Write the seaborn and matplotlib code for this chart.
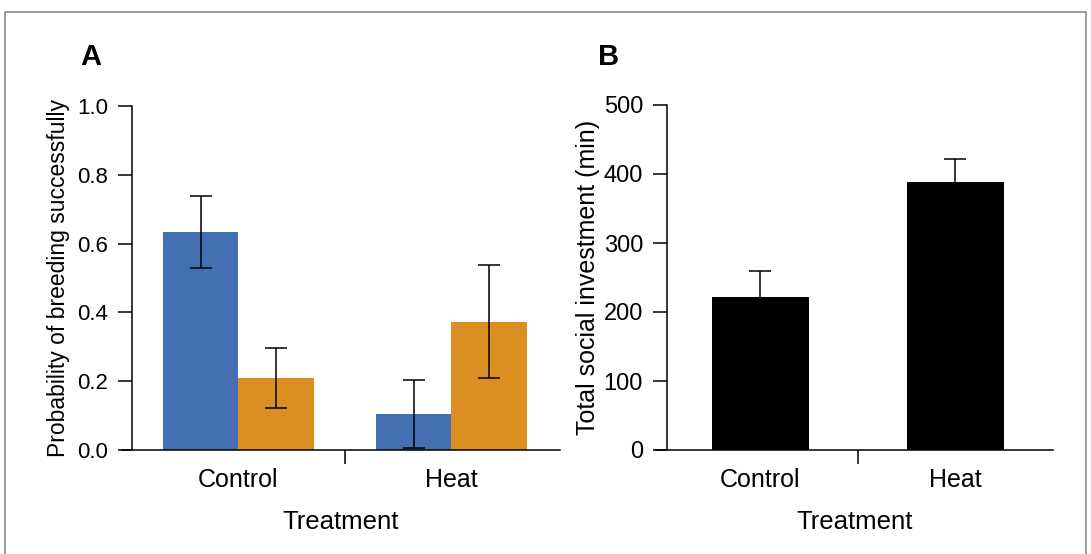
import pandas as pd
import matplotlib
matplotlib.use("Agg")
import matplotlib.pyplot as plt
import seaborn as sns
from matplotlib.patches import Rectangle

sns.set_style("ticks")
plt.rcParams['font.family'] = ['Liberation Sans', 'DejaVu Sans']
plt.rcParams['text.color'] = 'black'
plt.rcParams['axes.labelcolor'] = 'black'
plt.rcParams['xtick.color'] = 'black'
plt.rcParams['ytick.color'] = 'black'

# Panel A data
treatments = ["Control", "Heat"]
series = ["Series 1", "Series 2"]
prob_s1 = [0.634, 0.105]
prob_s2 = [0.209, 0.372]
err_lo_s1 = [0.529, 0.006]
err_hi_s1 = [0.739, 0.203]
err_lo_s2 = [0.123, 0.209]
err_hi_s2 = [0.297, 0.538]

# Panel B data
investment = [222, 389]
invest_hi = [259, 422]

colors_a = ["#4470B3", "#DB8E21"]

df_a = pd.DataFrame({
    "Treatment": treatments * 2,
    "series": [series[0]] * 2 + [series[1]] * 2,
    "prob": prob_s1 + prob_s2,
})
df_b = pd.DataFrame({"Treatment": treatments, "invest": investment})

fig = plt.figure(figsize=(10.91, 5.54), dpi=100)
axA = fig.add_axes([122 / 1091, 1 - 450 / 554, (560 - 122) / 1091, (450 - 106) / 554])
axB = fig.add_axes([656 / 1091, 1 - 450 / 554, (1053 - 656) / 1091, (450 - 105) / 554])

# ---- Panel A
sns.barplot(data=df_a, x="Treatment", y="prob", hue="series", palette=colors_a,
            width=0.71, errorbar=None, saturation=1, legend=False, linewidth=0, ax=axA)
lows = [err_lo_s1, err_lo_s2]
highs = [err_hi_s1, err_hi_s2]
bar_conts = list(axA.containers)
for k, cont in enumerate(bar_conts):
    for j, bar in enumerate(cont.patches):
        xc = bar.get_x() + bar.get_width() / 2
        h = bar.get_height()
        axA.errorbar(xc, h, yerr=[[h - lows[k][j]], [highs[k][j] - h]],
                     fmt="none", ecolor="black", elinewidth=1.1, capsize=8, capthick=1.1)
axA.set_ylim(0, 1.0)
axA.set_xlim(-0.547, 1.51)
axA.set_yticks([0, 0.2, 0.4, 0.6, 0.8, 1.0])
axA.set_yticklabels(["0.0", "0.2", "0.4", "0.6", "0.8", "1.0"])
axA.spines['left'].set_position(('data', -0.5))
axA.set_ylabel("Probability of breeding successfully", fontsize=16.5, labelpad=5)
axA.tick_params(axis='y', labelsize=16)

# ---- Panel B
sns.barplot(data=df_b, x="Treatment", y="invest", color="black", width=0.495,
            errorbar=None, saturation=1, linewidth=0, ax=axB)
for j, bar in enumerate(list(axB.containers[0].patches)):
    xc = bar.get_x() + bar.get_width() / 2
    h = bar.get_height()
    eb = axB.errorbar(xc, h, yerr=[[0], [invest_hi[j] - h]], fmt="none", ecolor="black",
                      elinewidth=1.1, capsize=8, capthick=1.1)
    eb[1][0].set_visible(False)
axB.set_ylim(0, 500)
axB.set_xlim(-0.535, 1.5)
axB.set_yticks([0, 100, 200, 300, 400, 500])
axB.spines['left'].set_position(('data', -0.48))
axB.set_ylabel("Total social investment (min)", fontsize=18, labelpad=3)
axB.tick_params(axis='y', labelsize=17)

for ax in (axA, axB):
    sns.despine(ax=ax)
    for s in ('left', 'bottom'):
        ax.spines[s].set_linewidth(1.1)
        ax.spines[s].set_color("black")
    ax.set_xticks([0, 1])
    ax.set_xticklabels(treatments, fontsize=18)
    ax.set_xticks([0.5], minor=True)
    ax.tick_params(axis='x', which='major', length=0, pad=13)
    ax.tick_params(axis='x', which='minor', length=10, width=1.1, direction='out')
    ax.tick_params(axis='y', length=10, width=1.1, pad=7)
    ax.set_xlabel("Treatment", fontsize=18.5, labelpad=13)

fig.text(80 / 1091, 1 - 57 / 554, "A", fontsize=21, fontweight="bold", va="center", ha="left")
fig.text(598 / 1091, 1 - 57 / 554, "B", fontsize=21, fontweight="bold", va="center", ha="left")

fig.patches.append(Rectangle((5 / 1091, -0.1), (1086 - 5) / 1091, 1.1 - 12 / 554,
                             transform=fig.transFigure, fill=False, edgecolor="#8a8a8a",
                             linewidth=1.2))

fig.savefig("out.png", dpi=100)
